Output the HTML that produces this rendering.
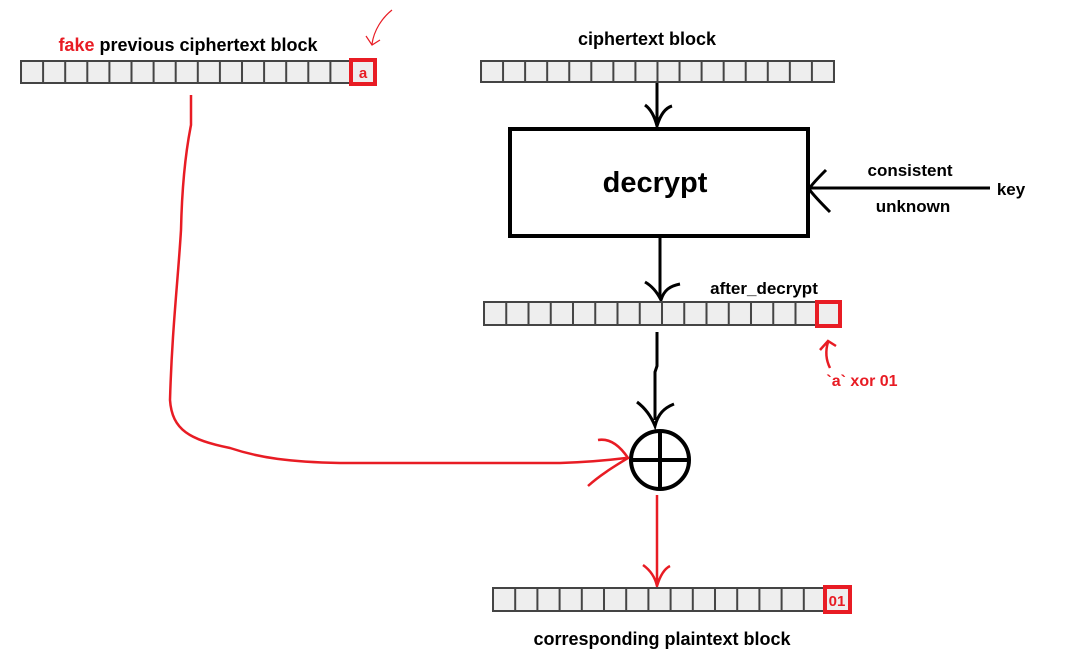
<!DOCTYPE html>
<html><head><meta charset="utf-8"><style>
html,body{margin:0;padding:0;background:#fff;}
svg{display:block;}
text{font-family:"Liberation Sans",sans-serif;font-weight:bold;}
</style></head><body>
<svg width="1067" height="672" viewBox="0 0 1067 672" xmlns="http://www.w3.org/2000/svg">
<defs>
<pattern id="p1" patternUnits="userSpaceOnUse" x="21" y="61" width="22.1" height="22"><rect x="0" y="0" width="22.1" height="22" fill="#eee" stroke="#444" stroke-width="2"/></pattern>
<pattern id="p2" patternUnits="userSpaceOnUse" x="481" y="61" width="22.06" height="21"><rect x="0" y="0" width="22.06" height="21" fill="#eee" stroke="#444" stroke-width="2"/></pattern>
<pattern id="p3" patternUnits="userSpaceOnUse" x="484" y="302" width="22.25" height="23"><rect x="0" y="0" width="22.25" height="23" fill="#eee" stroke="#444" stroke-width="2"/></pattern>
<pattern id="p4" patternUnits="userSpaceOnUse" x="493" y="588" width="22.2" height="23"><rect x="0" y="0" width="22.2" height="23" fill="#eee" stroke="#444" stroke-width="2"/></pattern>
</defs>

<!-- block 1 -->
<rect x="21" y="61" width="353.6" height="22" fill="url(#p1)" stroke="#444" stroke-width="2"/>
<rect x="351" y="60" width="24" height="24" fill="#eee" stroke="#e81c24" stroke-width="4"/>
<text x="363" y="78" font-size="15" fill="#e81c24" text-anchor="middle">a</text>
<text x="188" y="51" font-size="18" text-anchor="middle"><tspan fill="#e81c24">fake</tspan> previous ciphertext block</text>
<path d="M392 10 C382 18 374 30 372 44 M366 36 L372 45 L380 40" fill="none" stroke="#e81c24" stroke-width="1.2"/>

<!-- block 2 -->
<rect x="481" y="61" width="353" height="21" fill="url(#p2)" stroke="#444" stroke-width="2"/>
<text x="647" y="45" font-size="18" text-anchor="middle">ciphertext block</text>
<path d="M657 83 L657 124 M645 105 C652 110 655 118 657 126 C660 116 665 108 672 106" fill="none" stroke="#000" stroke-width="3"/>

<!-- decrypt box -->
<rect x="510" y="129" width="298" height="107" fill="#fff" stroke="#000" stroke-width="4"/>
<text x="655" y="192" font-size="29" text-anchor="middle">decrypt</text>
<path d="M990 188 L810 188 M826 170 C818 178 812 184 809 189 C814 196 822 204 830 212" fill="none" stroke="#000" stroke-width="3"/>
<text x="910" y="176" font-size="17" text-anchor="middle">consistent</text>
<text x="913" y="212" font-size="17" text-anchor="middle">unknown</text>
<text x="1011" y="195" font-size="17" text-anchor="middle">key</text>

<!-- arrow to block 3 -->
<path d="M660 238 L660 298 M645 282 C652 286 657 292 661 300 C664 290 670 286 680 284" fill="none" stroke="#000" stroke-width="3"/>

<!-- block 3 -->
<rect x="484" y="302" width="356" height="23" fill="url(#p3)" stroke="#444" stroke-width="2"/>
<rect x="817" y="302" width="23" height="24" fill="#eee" stroke="#e81c24" stroke-width="4"/>
<text x="764" y="294" font-size="17" text-anchor="middle">after_decrypt</text>
<path d="M830 368 C826 360 825 352 828 342 M820 350 L828 341 L836 346" fill="none" stroke="#e81c24" stroke-width="2.5"/>
<text x="862" y="386" font-size="16" fill="#e81c24" text-anchor="middle">`a` xor 01</text>

<!-- arrow down to xor -->
<path d="M657 332 L657 366 L655 372 L655 420 M637 402 C645 408 651 416 655 426 C658 414 664 408 674 404" fill="none" stroke="#000" stroke-width="3"/>

<!-- xor -->
<circle cx="660" cy="460" r="29" fill="#fff" stroke="#000" stroke-width="4"/>
<line x1="660" y1="431" x2="660" y2="489" stroke="#000" stroke-width="4"/>
<line x1="631" y1="460" x2="689" y2="460" stroke="#000" stroke-width="4"/>

<!-- red long connector -->
<path d="M191 95 L191 125 C186 150 182 185 181 230 C178 280 172 330 170 400 C172 430 190 440 230 448 C260 458 290 462 340 463 L560 463 C590 462 610 460 626 458" fill="none" stroke="#e81c24" stroke-width="2.5"/>
<path d="M598 440 C610 438 620 446 628 458 C615 466 600 475 588 486" fill="none" stroke="#e81c24" stroke-width="2.5"/>

<!-- red down arrow -->
<path d="M657 495 L657 584 M643 565 C650 570 655 577 657 586 C660 576 664 569 670 566" fill="none" stroke="#e81c24" stroke-width="2.5"/>

<!-- block 4 -->
<rect x="493" y="588" width="355" height="23" fill="url(#p4)" stroke="#444" stroke-width="2"/>
<rect x="825" y="587" width="25" height="25" fill="#eee" stroke="#e81c24" stroke-width="4"/>
<text x="837" y="606" font-size="15" fill="#e81c24" text-anchor="middle">01</text>
<text x="662" y="645" font-size="18" text-anchor="middle">corresponding plaintext block</text>
</svg>
</body></html>
